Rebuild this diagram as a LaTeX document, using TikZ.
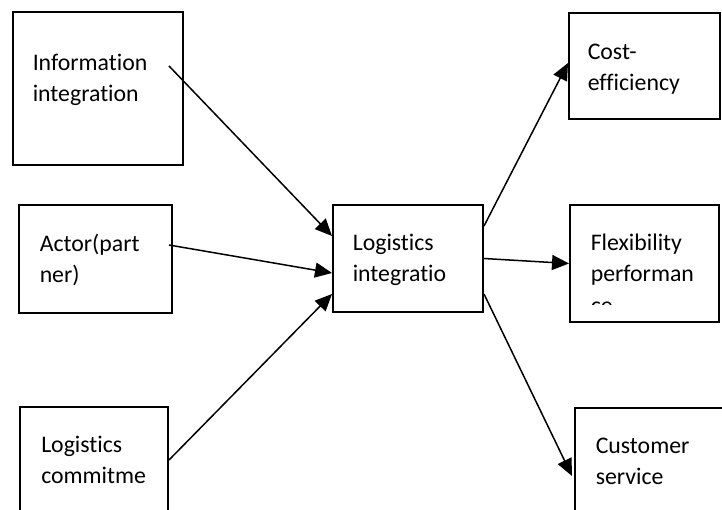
\documentclass[tikz,border=0pt]{standalone}
\usepackage{fontspec}
\setmainfont{Carlito}[Ligatures={NoCommon, NoRequired, NoContextual}]
\usetikzlibrary{arrows.meta, positioning}

\begin{document}
\begin{tikzpicture}[x=0.5pt, y=0.5pt, ->, >={Triangle[length=8.5pt, width=7.5pt]}, line width=0.75pt,
    box/.style={draw, line width=1pt, anchor=north west, inner sep=0pt},
    txt/.style={inner sep=0pt, align=left, font=\fontsize{11.9}{15.8}\selectfont}]
    \clip (0,0) rectangle (722,509);

    \node[box, minimum width=85pt,   minimum height=76.5pt] (InfoIntegration) at (12,498)  {};
    \node[box, minimum width=76.5pt, minimum height=54pt]   (Actor)           at (18,305)  {};
    \node[box, minimum width=74pt,   minimum height=53pt]   (LogCommitment)   at (19,103)  {};
    \node[box, minimum width=75pt,   minimum height=53.5pt] (LogIntegration)  at (332,305) {};
    \node[box, minimum width=75.5pt, minimum height=53pt]   (CostEff)         at (568,497) {};
    \node[box, minimum width=74.5pt, minimum height=58.5pt] (Flexibility)     at (569,305) {};
    \node[box, minimum width=74pt,   minimum height=68pt]   (CustService)     at (574,102) {};

    \node[txt, below right=21pt and 10pt of InfoIntegration.north west]  (InfoIntegrationText) {Information\\integration};
    \node[txt, below right=14.5pt and 10.5pt of Actor.north west]        (ActorText)           {Actor(part\\ner)};
    \node[txt, below right=14.5pt and 10.75pt of LogCommitment.north west] (LogCommitmentText) {Logistics\\commitme};
    \node[txt, below right=14.5pt and 10pt of LogIntegration.north west] (LogIntegrationText)  {Logistics\\integratio};
    \node[txt, below right=15.5pt and 9.5pt of CostEff.north west]       (CostEffText)         {Cost-\\efficiency};
    \node[txt, below right=15pt and 10.5pt of CustService.north west]    (CustServiceText)     {Customer\\service};
    \begin{scope}
        \clip ([yshift=9.5pt]Flexibility.south west) rectangle (Flexibility.north east);
        \node[txt, below right=14.5pt and 10.5pt of Flexibility.north west] (FlexibilityText) {Flexibility\\performan\\ce};
    \end{scope}

    \path
    ([xshift=-7.5pt, yshift=11.25pt]InfoIntegration.east)
    edge ([yshift=11.25pt]LogIntegration.west)
    ([xshift=-2pt, yshift=7pt]Actor.east)
    edge ([yshift=-7.25pt]LogIntegration.west)
    (LogCommitment.east)
    edge ([yshift=-17.75pt]LogIntegration.west)
    ([yshift=16.25pt]LogIntegration.east)
    edge ([yshift=1.5pt]CostEff.west)
    (LogIntegration.east)
    edge (Flexibility.west)
    ([yshift=-17.75pt]LogIntegration.east)
    edge ([xshift=-1pt]CustService.west);

\end{tikzpicture}
\end{document}
